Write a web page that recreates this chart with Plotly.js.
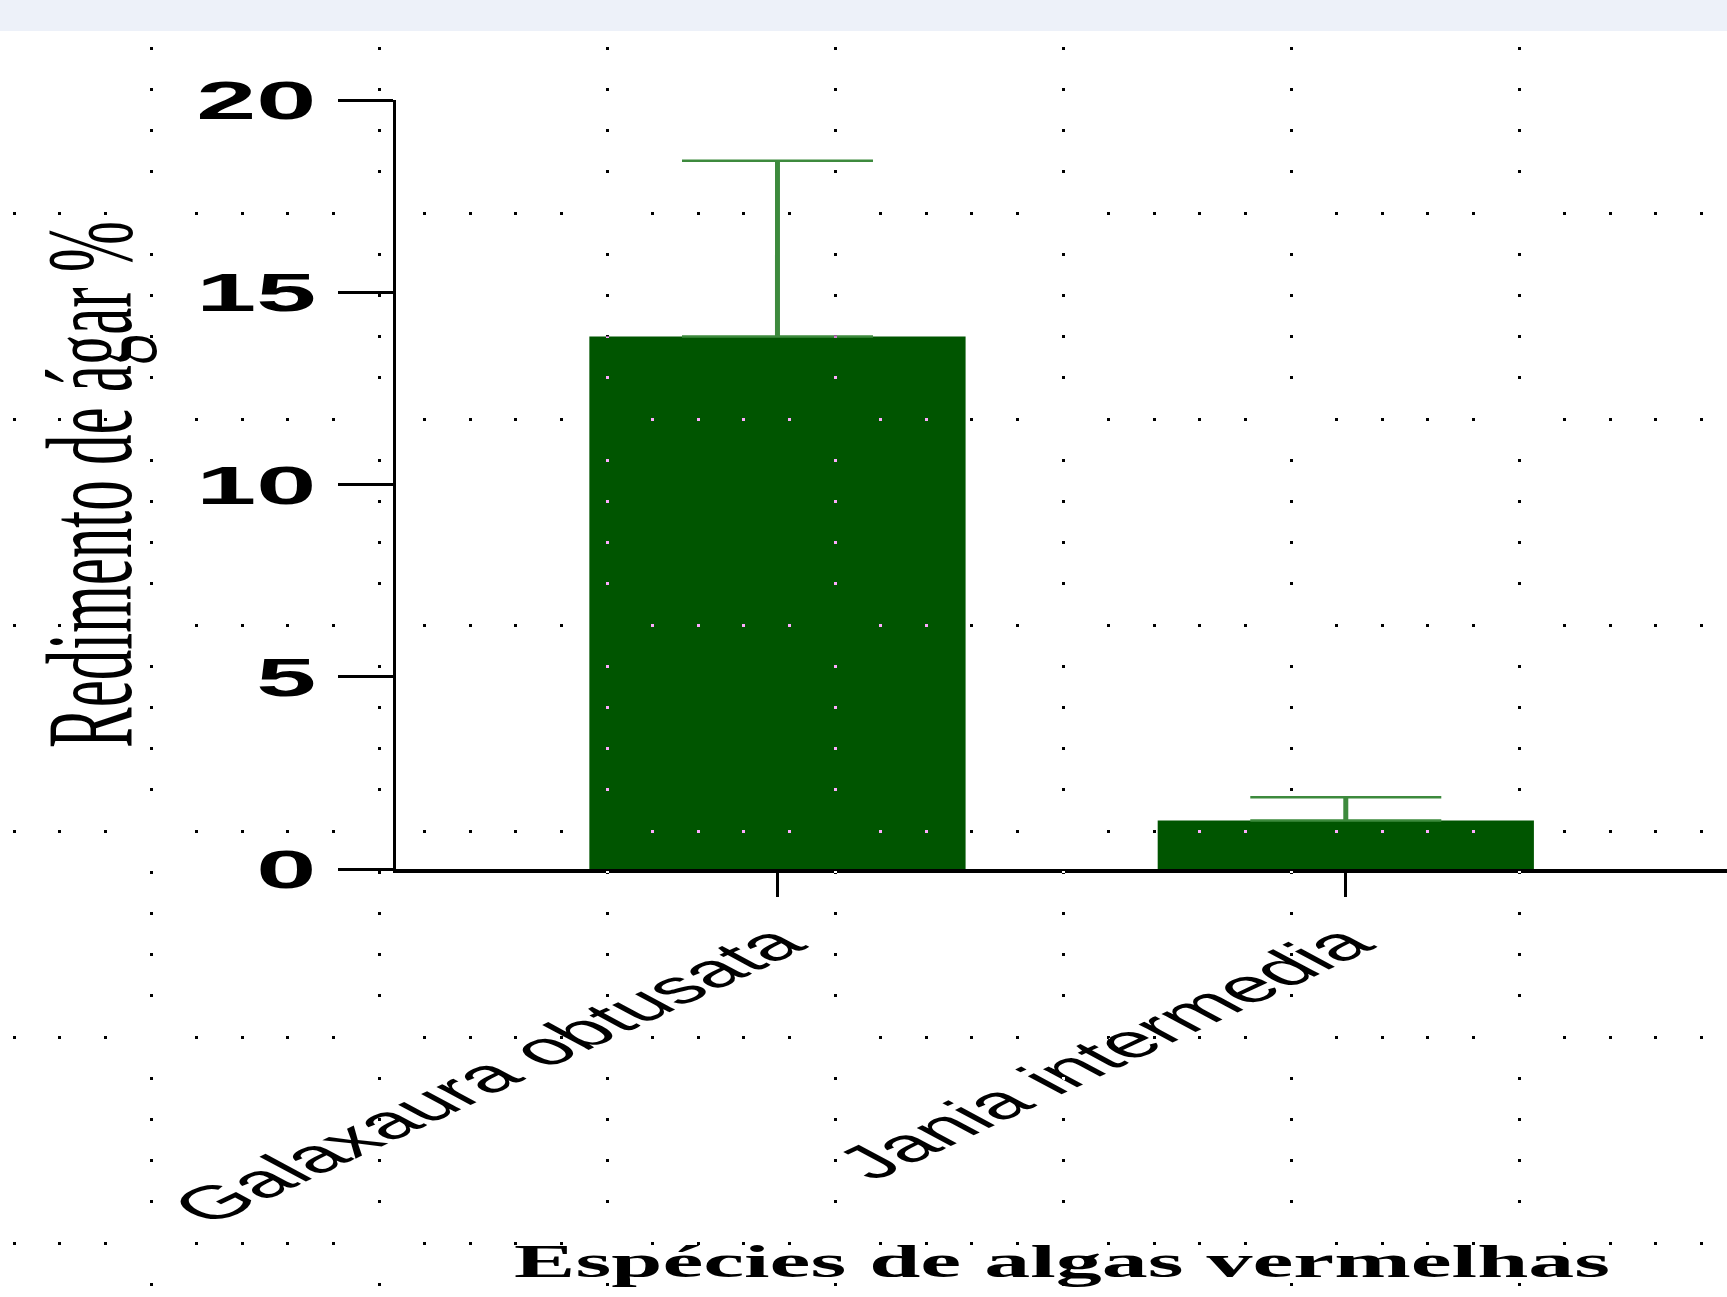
<!DOCTYPE html>
<html>
<head>
<meta charset="utf-8">
<script src="https://cdn.plot.ly/plotly-3.0.1.min.js"></script>
<style>
  html, body { margin: 0; padding: 0; background: #ffffff; overflow: hidden; }
  /* the reference is a horizontally stretched chart: draw at half width, stretch x2 */
  #chart { width: 863.5px; height: 1297px; transform: scaleX(2); transform-origin: 0 0; }
  #chart .subplot.x2y2 .gridlayer path { mix-blend-mode: difference; }
</style>
</head>
<body>
<div id="chart"></div>
<script>
// ---- data ----
const categories   = ['Galaxaura obtusata', 'Jania intermedia'];
const yieldValues  = [13.85, 1.27];
const yieldErrors  = [4.57, 0.60];
const yTickValues  = [0, 5, 10, 15, 20];
const yTickLabels  = ['0', '5', '10', '15', '20'];
const xTitleText   = 'Espécies de algas vermelhas';
const yTitleText   = 'Redimento de ágar %';

// ---- geometry (drawing is done at half width, then stretched) ----
const W = 863.5, H = 1297;
const plotLeft = 198, plotTop = 100, plotBottom = 869.3;

const traces = [
  {
    type: 'bar',
    x: categories,
    y: yieldValues,
    marker: { color: '#005500' },
    error_y: {
      type: 'data',
      array: yieldErrors,
      arrayminus: yieldErrors.map(() => 0),
      symmetric: false,
      visible: true,
      color: '#3d8a3d',
      thickness: 2.5,
      width: 47.75
    },
    hoverinfo: 'skip',
    showlegend: false
  },
  { type: 'scatter', x: [], y: [], xaxis: 'x2', yaxis: 'y2', showlegend: false, hoverinfo: 'skip' }
];

const layout = {
  width: W,
  height: H,
  margin: { l: 0, r: 0, t: 0, b: 0, pad: 0 },
  paper_bgcolor: '#ffffff',
  plot_bgcolor: 'rgba(0,0,0,0)',
  showlegend: false,
  bargap: 0.338,
  xaxis: {
    domain: [plotLeft / W, 1],
    anchor: 'y',
    type: 'category',
    range: [-0.6708, 1.6725],
    showgrid: false,
    zeroline: false,
    showline: true,
    linecolor: '#000000',
    linewidth: 3.5,
    ticks: 'outside',
    ticklen: 24,
    tickwidth: 1.5,
    tickcolor: '#000000',
    tickangle: -43,
    tickfont: { family: 'Liberation Sans, Arial, sans-serif', size: 47, color: '#000000' },
    automargin: false,
    title: {
      text: xTitleText,
      font: { family: 'Liberation Serif, Times New Roman, serif', size: 46, weight: 'bold', color: '#000000' }
    }
  },
  yaxis: {
    domain: [(H - plotBottom) / H, (H - plotTop) / H],
    anchor: 'x',
    range: [0, 20],
    tickvals: yTickValues,
    ticktext: yTickLabels,
    showgrid: false,
    zeroline: false,
    showline: true,
    linecolor: '#000000',
    linewidth: 1.65,
    ticks: 'outside',
    ticklen: 27.5,
    tickwidth: 3,
    tickcolor: '#000000',
    ticklabelstandoff: 0,
    tickfont: { family: 'Liberation Sans, Arial, sans-serif', size: 54, weight: 'bold', color: '#000000' },
    automargin: false,
    title: {
      text: yTitleText,
      font: { family: 'Liberation Serif, Times New Roman, serif', size: 61, color: '#000000' }
    }
  },
  // full-page dotted overlay grid
  xaxis2: {
    domain: [6.35 / W, 1],
    anchor: 'y2',
    range: [6.35, W],
    tick0: 75.5,
    dtick: 114,
    showgrid: true,
    gridcolor: '#ffffff',
    gridwidth: 1.5,
    griddash: '3px,38.2px',
    showticklabels: false,
    ticks: '',
    zeroline: false,
    showline: false
  },
  yaxis2: {
    domain: [0, 1 - 5.5 / H],
    anchor: 'x2',
    range: [H, 5.5],
    tick0: 213,
    dtick: 206,
    showgrid: true,
    gridcolor: '#ffffff',
    gridwidth: 3,
    griddash: '1.5px,21.3px',
    showticklabels: false,
    ticks: '',
    zeroline: false,
    showline: false
  },
  shapes: [
    {
      type: 'rect', xref: 'paper', yref: 'paper',
      x0: 0, x1: 1, y0: 1 - 31 / H, y1: 1,
      fillcolor: '#edf1f9', line: { width: 0 }, layer: 'above'
    }
  ]
};

Plotly.newPlot('chart', traces, layout, { staticPlot: true, displayModeBar: false });
</script>
</body>
</html>
